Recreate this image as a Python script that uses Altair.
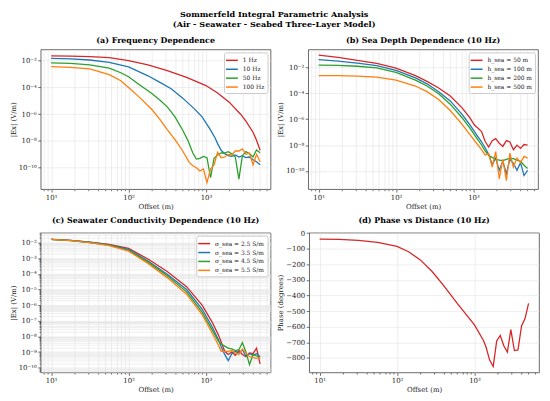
import altair as alt
import pandas as pd

FONT = "DejaVu Serif"
COLORS = ["#d62728", "#1f77b4", "#2ca02c", "#ff7f0e"]

# ---------------- (a) Frequency dependence : log10 |Ex| ----------------
a_labels = ["1 Hz", "10 Hz", "50 Hz", "100 Hz"]
a1_x = [10, 17.8, 31.6, 56.2, 100, 178, 316, 562, 1000, 1413, 1995, 2818, 3311, 4055, 4498, 5000]
a1_y = [-1.64, -1.66, -1.69, -1.77, -1.99, -2.32, -2.74, -3.25, -3.86, -4.42, -5.10, -6.02, -6.55, -7.35, -7.95, -8.70]
a2_x = [10, 17.8, 31.6, 56.2, 100, 178, 251, 355, 501, 708, 891, 1122, 1318,
        1413, 1570, 1746, 1936, 2153, 2393, 2661, 2951, 3281, 3648, 4055, 4498, 5000]
a2_y = [-1.83, -1.87, -1.95, -2.12, -2.47, -3.13, -3.6, -4.1, -4.8, -5.6, -6.2, -7.1, -7.8,
        -8.2, -8.7, -8.95, -9.1, -9.15, -9.05, -9.2, -9.1, -9.25, -9.2, -9.4, -9.55, -9.78]
a3_x = [10, 17.8, 31.6, 56.2, 79.4, 100, 141, 200, 251, 316, 398, 501, 589,
        676, 752, 834, 927, 1030, 1146, 1271, 1413, 1570, 1746, 1936, 2153, 2393, 2661,
        2951, 3281, 3648, 4055, 4498, 5000]
a3_y = [-2.17, -2.20, -2.31, -2.55, -2.9, -3.2, -3.83, -4.45, -4.92, -5.45, -6.2, -7.2, -8.0,
        -8.9, -9.35, -9.3, -9.15, -9.25, -10.75, -9.3, -9.05, -8.9, -8.9, -8.8, -8.95, -9.2, -10.85,
        -9.1, -8.8, -8.95, -9.2, -8.67, -8.88]
a4_x = [10, 17.8, 31.6, 56.2, 79.4, 100, 141, 200, 251, 316, 398, 501,
        608, 676, 752, 834, 927, 1030, 1146, 1271, 1413, 1570, 1746, 1936, 2153, 2393, 2661,
        2951, 3281, 3648, 4055, 4498, 5000]
a4_y = [-2.45, -2.50, -2.62, -3.05, -3.5, -4.0, -4.78, -5.65, -6.35, -7.15, -7.9, -8.75,
        -9.6, -9.85, -10.0, -10.25, -10.1, -11.1, -10.1, -9.8, -8.85, -9.25, -9.2, -9.0, -9.05, -8.75, -8.75,
        -8.6, -9.0, -8.9, -9.78, -9.0, -9.55]

# ---------------- (b) Sea depth dependence : log10 |Ex| ----------------
b_labels = ["h_sea = 50 m", "h_sea = 100 m", "h_sea = 200 m", "h_sea = 500 m"]
b1_x = [10, 17.8, 31.6, 56.2, 100, 178, 251, 355, 501, 708, 891,
        1030, 1146, 1271, 1413, 1570, 1746, 1936, 2153, 2393, 2661, 2951, 3281, 3648, 4055, 4498, 5000]
b1_y = [-1.04, -1.22, -1.44, -1.68, -2.05, -2.62, -3.07, -3.58, -4.2, -5.1, -5.85,
        -6.45, -6.7, -6.95, -7.7, -8.15, -7.65, -7.5, -7.85, -8.1, -7.65, -7.75, -8.35, -8.0, -8.25, -7.95, -8.0]
b_smooth_x = [10, 17.8, 31.6, 56.2, 100, 178, 251, 355, 501, 708, 891, 1122, 1259,
              1413, 1570, 1746, 1936, 2153, 2393, 2661, 2951, 3281, 3648, 4055, 4498, 5000]
b2_y = [-1.39, -1.50, -1.66, -1.86, -2.22, -2.8, -3.26, -3.87, -4.58, -5.6, -6.4, -7.28, -7.7,
        -8.2, -8.7, -9.5, -9.0, -9.95, -9.25, -10.2, -9.1, -9.4, -9.95, -9.35, -10.35, -9.95]
b3_y = [-1.81, -1.84, -1.90, -2.03, -2.38, -2.97, -3.43, -4.03, -4.83, -5.86, -6.65, -7.53, -7.95,
        -8.45, -8.8, -8.95, -9.1, -9.15, -9.2, -9.1, -9.0, -9.05, -9.15, -9.25, -9.55, -9.8]
b4_y = [-2.62, -2.63, -2.66, -2.74, -2.97, -3.43, -3.86, -4.47, -5.32, -6.38, -7.14, -7.93, -8.3,
        -8.75, -8.65, -9.7, -8.5, -10.6, -9.1, -10.75, -8.62, -9.7, -9.0, -9.35, -8.87, -9.0]

# ---------------- (c) Seawater conductivity dependence : log10 |Ex| ----------------
c_labels = ["σ_sea = 2.5 S/m", "σ_sea = 3.5 S/m", "σ_sea = 4.5 S/m", "σ_sea = 5.5 S/m"]
c_x = [10, 17.8, 31.6, 56.2, 100, 178, 316, 562, 891, 1191, 1445, 1585,
       1746, 1936, 2153, 2393, 2661, 2951, 3281, 3648, 4055, 4498, 5000]
c1_y = [-1.80, -1.86, -1.97, -2.12, -2.37, -3.05, -3.85, -4.82, -6.0, -7.05, -7.9, -8.4,
        -8.95, -9.15, -9.0, -9.2, -8.9, -9.15, -9.3, -9.05, -9.1, -8.75, -9.75]
c2_y = [-1.80, -1.86, -1.98, -2.14, -2.43, -3.18, -4.03, -5.0, -6.25, -7.35, -8.2, -8.7,
        -9.15, -9.55, -9.1, -8.95, -9.05, -8.85, -9.25, -9.1, -9.2, -9.1, -9.3]
c3_y = [-1.80, -1.87, -2.0, -2.17, -2.49, -3.25, -4.12, -5.15, -6.45, -7.55, -8.3, -8.5,
        -8.62, -8.75, -8.8, -8.9, -8.85, -8.4, -9.0, -9.8, -9.15, -9.25, -9.35]
c4_x = [10, 17.8, 31.6, 56.2, 100, 178, 316, 562, 891, 1191, 1445,
        1570, 1746, 1936, 2153, 2393, 2661, 2951, 3281, 3648, 4055, 4498, 5000]
c4_y = [-1.79, -1.87, -2.01, -2.2, -2.55, -3.33, -4.24, -5.3, -6.6, -7.75, -8.55,
        -8.95, -8.95, -8.95, -8.9, -9.05, -9.15, -8.8, -9.05, -9.3, -9.35, -9.4, -9.35]

# ---------------- (d) Phase vs distance (degrees) ----------------
d_x = [10, 17.8, 31.6, 56.2, 100, 141, 200, 282, 398, 603, 1000, 1312,
       1413, 1570, 1746, 1936, 2153, 2393, 2661, 2951, 3281, 3648, 4055, 4498, 5000]
d_y = [-39, -41, -47, -60, -86, -120, -172, -245, -335, -452, -588, -690,
       -732, -814, -855, -691, -656, -722, -763, -619, -753, -749, -595, -548, -451]

X_DOMAIN = [7.33, 6822]
X_TICKS = [8, 9] + [m * 10 ** e for e in (1, 2) for m in range(1, 10)] + [1000, 2000, 3000, 4000, 5000, 6000]

SUP = {"-": "⁻", "0": "⁰", "1": "¹", "2": "²", "3": "³", "4": "⁴",
       "5": "⁵", "6": "⁶", "7": "⁷", "8": "⁸", "9": "⁹"}
EXP = "round(log(datum.value) / LN10)"
IS_DEC = f"abs(log(datum.value) / LN10 - {EXP}) < 0.001"
_s = f"'' + {EXP}"
for k, v in SUP.items():
    _s = f"replace({_s}, '{k}', '{v}')"
LOG_LABEL = f"{IS_DEC} ? '10' + {_s} : ''"
TICK_SIZE = {"condition": {"test": IS_DEC, "value": 3}, "value": 1.6}


def long_frame(labels, xs, ys, log=True):
    rows = []
    for i, (lab, x, y) in enumerate(zip(labels, xs, ys)):
        for xi, yi in zip(x, y):
            rows.append({"offset": xi, "series": lab, "idx": i,
                         "val": 10 ** yi if log else yi})
    return pd.DataFrame(rows)


def x_axis(minor_grid=True):
    ax = dict(values=X_TICKS, labelExpr=LOG_LABEL, tickSize=TICK_SIZE, title="Offset (m)",
              labelOverlap=False, labelFlush=False, grid=True)
    if not minor_grid:
        ax["gridOpacity"] = {"condition": {"test": IS_DEC, "value": 1}, "value": 0}
    return alt.Axis(**ax)


def legend():
    return alt.Legend(orient="top-right", offset=3, padding=3, title=None,
                      fillColor="rgba(255,255,255,0.85)", strokeColor="#cccccc", cornerRadius=2,
                      labelFont=FONT, labelFontSize=6, labelColor="#222222",
                      symbolType="M-1.5,0H1.5", symbolSize=64, symbolStrokeWidth=1.5,
                      rowPadding=1, labelOffset=6)


def title(t):
    return alt.TitleParams(text=t, font=FONT, fontSize=8, fontWeight="bold", offset=4, color="black")


W, H = 232, 141


def log_panel(df, labels, ttl, ydom, yvals):
    return alt.Chart(df).mark_line(strokeWidth=1.3, clip=True).encode(
        x=alt.X("offset:Q", scale=alt.Scale(type="log", domain=X_DOMAIN, nice=False), axis=x_axis()),
        y=alt.Y("val:Q", scale=alt.Scale(type="log", domain=ydom, nice=False),
                axis=alt.Axis(values=yvals, labelExpr=LOG_LABEL, tickSize=TICK_SIZE,
                              title="|Ex| (V/m)", labelOverlap=False, labelFlush=False, grid=True)),
        color=alt.Color("series:N", scale=alt.Scale(domain=labels, range=COLORS), legend=legend()),
        order="idx:Q",
    ).properties(width=W, height=H, title=title(ttl))


df_a = long_frame(a_labels, [a1_x, a2_x, a3_x, a4_x], [a1_y, a2_y, a3_y, a4_y])
df_b = long_frame(b_labels, [b1_x, b_smooth_x, b_smooth_x, b_smooth_x], [b1_y, b2_y, b3_y, b4_y])
df_c = long_frame(c_labels, [c_x, c_x, c_x, c4_x], [c1_y, c2_y, c3_y, c4_y])
df_d = pd.DataFrame({"offset": d_x, "phase": d_y})

Y_EVEN = [1e-2, 1e-4, 1e-6, 1e-8, 1e-10]
c_dom = [10 ** -10.3, 10 ** -1.37]
Y_C = [m * 10.0 ** e for e in range(-11, -1) for m in range(1, 10)
       if c_dom[0] <= m * 10.0 ** e <= c_dom[1]]

pa = log_panel(df_a, a_labels, "(a) Frequency Dependence", [10 ** -11.6, 10 ** -1.16], Y_EVEN)
pb = log_panel(df_b, b_labels, "(b) Sea Depth Dependence (10 Hz)", [10 ** -11.4, 10 ** -0.6], Y_EVEN)
pc = log_panel(df_c, c_labels, "(c) Seawater Conductivity Dependence (10 Hz)", c_dom, Y_C)

pd_ = alt.Chart(df_d).mark_line(strokeWidth=1.3, color=COLORS[0], clip=True).encode(
    x=alt.X("offset:Q", scale=alt.Scale(type="log", domain=X_DOMAIN, nice=False), axis=x_axis(False)),
    y=alt.Y("phase:Q", scale=alt.Scale(domain=[-893, 2], nice=False, zero=False),
            axis=alt.Axis(values=list(range(0, -801, -100)), title="Phase (degrees)",
                          tickSize=3, grid=True, labelFlush=False)),
).properties(width=W, height=H, title=title("(d) Phase vs Distance (10 Hz)"))

top = alt.hconcat(pa, pb, spacing=4).resolve_scale(color="independent")
bot = alt.hconcat(pc, pd_, spacing=4).resolve_scale(color="independent")

chart = alt.vconcat(top, bot, spacing=6).resolve_scale(color="independent").properties(
    title=alt.TitleParams(
        text=["Sommerfeld Integral Parametric Analysis", "(Air - Seawater - Seabed Three-Layer Model)"],
        font=FONT, fontSize=8.2, fontWeight="bold", anchor="middle", lineHeight=10, offset=8, color="black"),
    padding={"left": 0, "top": 0, "right": 2, "bottom": 2},
).configure_view(
    stroke="#444444", strokeWidth=0.8
).configure_axis(
    labelFont=FONT, labelFontSize=7, labelColor="#222222", labelPadding=1.5,
    titleFont=FONT, titleFontSize=7, titleFontWeight="normal", titleColor="#222222", titlePadding=2,
    domain=False, tickColor="#333333", tickWidth=0.7,
    gridColor="#e3e3e3", gridWidth=0.6,
)

chart.save("out.html", embed_options={"renderer": "svg", "actions": False})
